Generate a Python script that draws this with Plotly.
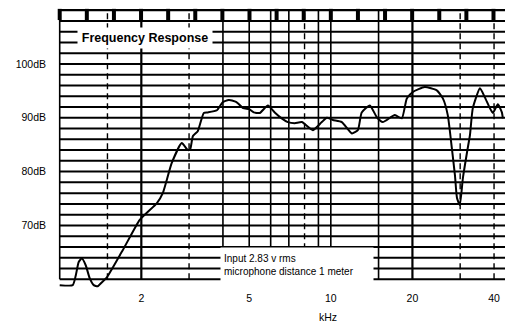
import math
import plotly.graph_objects as go

# ---- data ----
freq_khz = [1.00, 1.117, 1.146, 1.175, 1.206, 1.247, 1.29, 1.335, 1.381, 1.429, 1.49, 1.708,
            1.97, 2.11, 2.28, 2.40, 2.59, 2.82, 2.97, 3.03, 3.10, 3.23, 3.40, 3.52, 3.80,
            3.99, 4.2, 4.45, 4.54, 4.75, 5.0, 5.2, 5.47, 5.86, 6.21, 6.59, 6.94, 7.36, 7.82,
            8.59, 9.26, 9.67, 10.17, 10.98, 11.96, 12.58, 13.0, 13.93, 14.78, 15.55, 17.22,
            18.28, 19.07, 20.07, 22.2, 24.6, 25.9, 27.0, 27.96, 28.7, 29.2, 29.9, 30.7, 31.8,
            32.6, 33.4, 35.5, 37.0, 38.6, 39.6, 41.3, 42.75, 43.1]
level_db = [58.9, 58.9, 60.7, 63.2, 63.9, 62.6, 60.2, 58.9, 58.7, 59.4, 60.3, 65.4,
            71.0, 72.5, 74.1, 76.0, 81.6, 85.3, 84.0, 84.2, 86.6, 87.5, 90.9, 91.0, 91.4,
            92.9, 93.3, 93.0, 92.7, 91.8, 91.6, 91.0, 90.9, 92.3, 91.0, 89.9, 89.2, 89.0, 89.2,
            87.7, 89.2, 90.0, 89.6, 89.2, 87.1, 87.7, 91.0, 92.3, 90.1, 89.2, 90.5,
            89.9, 93.6, 94.8, 95.7, 95.1, 93.6, 90.5, 84.3, 79.3, 75.1, 73.8, 78.8, 83.6,
            86.8, 91.8, 95.5, 93.8, 91.8, 90.9, 92.5, 91.0, 89.9]

x_tick_vals = [2, 5, 10, 20, 40]
x_tick_text = ["2", "5", "10", "20", "40"]
y_tick_vals = [70, 80, 90, 100]
y_tick_text = ["70dB", "80dB", "90dB", "100dB"]

grid_db = list(range(60, 111, 2))
grid_solid_khz = [1, 2, 4, 5, 6, 7, 9, 10, 15, 20]
grid_dashed_khz = [1.5, 3, 8, 30, 40]
marks_khz = [10 ** (k / 10) for k in range(0, 17)]  # 1/3-octave chart marks

title_text = "<b>Frequency Response</b>"
note_text = "Input 2.83 v rms<br>microphone distance 1 meter"

X_MAX = 43.9
FONT = "Liberation Sans, Arial, sans-serif"

fig = go.Figure()

# horizontal grid
for v in grid_db:
    fig.add_trace(go.Scatter(x=[1, X_MAX], y=[v, v], mode="lines",
                             line=dict(color="black", width=2.4 if v == 110 else 2.0),
                             hoverinfo="skip", showlegend=False))
# vertical grid
for f in grid_solid_khz:
    fig.add_trace(go.Scatter(x=[f, f], y=[60, 110], mode="lines",
                             line=dict(color="black", width=2.2 if f in (2, 20) else 1.6),
                             hoverinfo="skip", showlegend=False))
for f in grid_dashed_khz:
    fig.add_trace(go.Scatter(x=[f, f], y=[60, 110], mode="lines",
                             line=dict(color="black", width=1.4, dash="6px,4px"),
                             hoverinfo="skip", showlegend=False))
# top marks
fig.add_trace(go.Scatter(x=marks_khz, y=[109.2] * len(marks_khz), mode="markers",
                         marker=dict(symbol="line-ns", size=8,
                                     line=dict(color="black", width=4)),
                         hoverinfo="skip", showlegend=False, cliponaxis=False))
# response curve
fig.add_trace(go.Scatter(x=freq_khz, y=level_db, mode="lines",
                         line=dict(color="black", width=2.0, shape="spline", smoothing=0.5),
                         showlegend=False))

L, R, T, B = 57, 20, 8, 37
W, H = 525, 327
pw, ph = W - L - R, H - T - B


def px(xp):
    return (xp - L) / pw


def py(yp):
    return (H - B - yp) / ph


fig.add_annotation(text=title_text, xref="paper", yref="paper", x=px(145), y=py(38),
                   xanchor="center", yanchor="middle", showarrow=False,
                   font=dict(family=FONT, size=12.5, color="black"),
                   bgcolor="white", width=130, height=16, borderpad=2)
fig.add_annotation(text=note_text, xref="paper", yref="paper", x=px(220), y=py(247),
                   xanchor="left", yanchor="top", showarrow=False, align="left",
                   font=dict(family=FONT, size=10, color="black"),
                   bgcolor="white", width=146, height=28, borderpad=3)
fig.add_annotation(text="kHz", xref="paper", yref="paper", x=px(328), y=py(317),
                   xanchor="center", yanchor="middle", showarrow=False,
                   font=dict(family=FONT, size=10.5, color="black"))

fig.update_layout(
    width=W, height=H,
    margin=dict(l=L, r=R, t=T, b=B),
    paper_bgcolor="white", plot_bgcolor="white",
    font=dict(family=FONT, size=10.5, color="black"),
    xaxis=dict(type="log", range=[-0.01, math.log10(X_MAX)],
               tickvals=x_tick_vals, ticktext=x_tick_text,
               showgrid=False, zeroline=False, showline=False, ticks=""),
    yaxis=dict(range=[58, 110.4], tickvals=y_tick_vals, ticktext=y_tick_text,
               showgrid=False, zeroline=False, showline=False, ticks="",
               ticklabelstandoff=10),
)

fig.write_html("out.html")
